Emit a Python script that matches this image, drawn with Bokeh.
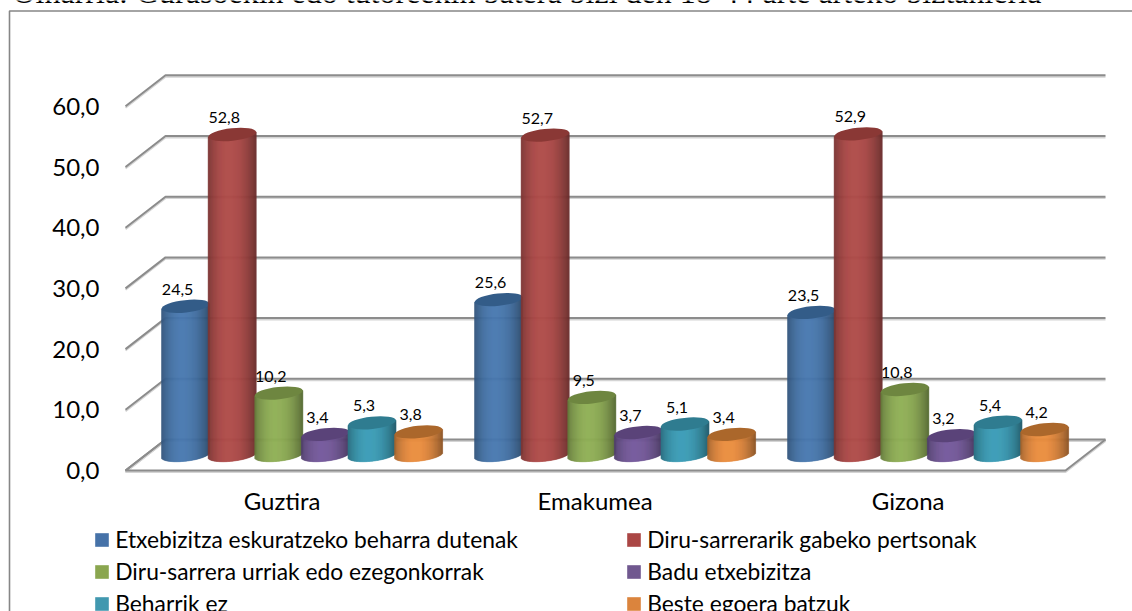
from bokeh.plotting import figure
from bokeh.models import (LinearAxis, FixedTicker, Legend, LegendItem, ColumnDataSource, Range1d)
from bokeh.core.properties import value
from bokeh.embed import file_html
from bokeh.resources import INLINE

# ---------- data ----------
title_text = "Oinarria: Gurasoekin edo tutoreekin batera bizi den 18-44 arte arteko biztanleria"
groups = ["Guztira", "Emakumea", "Gizona"]
series = ["Etxebizitza eskuratzeko beharra dutenak", "Diru-sarrerarik gabeko pertsonak",
          "Diru-sarrera urriak edo ezegonkorrak", "Badu etxebizitza",
          "Beharrik ez", "Beste egoera batzuk"]
etxebizitza = [24.5, 25.6, 23.5]
diru_gabe = [52.8, 52.7, 52.9]
diru_urri = [10.2, 9.5, 10.8]
badu = [3.4, 3.7, 3.2]
beharrik_ez = [5.3, 5.1, 5.4]
beste = [3.8, 3.4, 4.2]
all_values = [etxebizitza, diru_gabe, diru_urri, badu, beharrik_ez, beste]
y_ticks = [0, 10, 20, 30, 40, 50, 60]

side_colors = ["#4677AE", "#B04B49", "#8FAE55", "#73589A", "#41A0B9", "#EA8C3D"]
top_colors = ["#335C88", "#8A3835", "#6E8640", "#5A4379", "#2F7C90", "#AB672B"]
legend_colors = ["#4672A8", "#AA4644", "#8AA64F", "#70588F", "#4198AF", "#DB843D"]
grid_color = "#8C8C8C"
frame_color = "#868686"

# ---------- pixel geometry of the picture ----------
W, H = 1132, 611
PX_UNIT = 6.07          # px per value unit
Y0_PX = 470.0           # y px of value 0 at the front of the floor
DEPTH_Y = 31.0          # vertical px between floor front and back
DEPTH_X = 40.0
GROUP_PX = 313.0        # px between groups
GROUP0_PX = 301.6       # x px of first group's centre
BAR_PITCH = 46.6 / GROUP_PX
BAR_HALF = 24.0 / GROUP_PX
ELL_H = 6.2             # half height of top ellipse px
TILT = 2.6              # rise in px at right end of ellipse

x0 = -GROUP0_PX / GROUP_PX
x1 = (W - GROUP0_PX) / GROUP_PX
y1 = Y0_PX / PX_UNIT
y0 = (Y0_PX - H) / PX_UNIT

def X(px):
    return (px - GROUP0_PX) / GROUP_PX
def Y(px):
    return (Y0_PX - px) / PX_UNIT

p = figure(width=W, height=H, x_range=Range1d(x0, x1), y_range=Range1d(y0, y1),
           output_backend="svg", toolbar_location=None, min_border=0,
           x_axis_type=None, y_axis_type=None)
p.grid.visible = False
p.outline_line_color = None
p.background_fill_color = "white"
p.border_fill_color = "white"

# frame of the chart
p.line([X(9), X(9), X(W)], [Y(H), Y(10.5), Y(10.5)], line_color=frame_color, line_width=1.6)

# walls & floor
back_off = DEPTH_Y / PX_UNIT
fx, fx2 = X(125), X(1065)
bx, bx2 = X(165), X(1105)
for shadow, col, lw, dy in [(True, "#D4D4D4", 2, -1.4 / PX_UNIT), (False, grid_color, 2, 0)]:
    xs, ys = [], []
    for v in y_ticks:
        xs.append([fx, bx, bx2]); ys.append([v + dy, v + back_off + dy, v + back_off + dy])
    xs.append([bx, fx, fx2, bx2]); ys.append([back_off + dy, dy, dy, back_off + dy])
    p.multi_line(xs, ys, line_color=col, line_width=lw)

# ---------- cylinders ----------
def shade(hexcol, f):
    c = [int(hexcol[i:i + 2], 16) for i in (1, 3, 5)]
    return "#%02x%02x%02x" % tuple(max(0, min(255, int(round(v * f)))) for v in c)

STRIPS = 48
def profile(u):
    # u from -1 to 1 across the cylinder
    if u < -0.15:
        return 0.70 + 0.30 * (1 - ((-0.15 - u) / 0.85) ** 2)
    return 0.60 + 0.40 * (1 - ((u + 0.15) / 1.15) ** 2.2)

base_px = Y0_PX - DEPTH_Y / 2.0
base_val = (Y0_PX - base_px) / PX_UNIT
label_x, label_y, label_t = [], [], []
for s, vals in enumerate(all_values):
    left, right, bottom, top, cols = [], [], [], [], []
    ex, ey = [], []
    for g, v in enumerate(vals):
        xc = g + (s - 2.5) * BAR_PITCH
        for k in range(STRIPS):
            a = -1 + 2 * k / STRIPS
            b = -1 + 2 * (k + 1) / STRIPS
            u = (a + b) / 2
            round_part = (max(0.0, 1 - u * u)) ** 0.5
            left.append(xc + a * BAR_HALF)
            right.append(xc + b * BAR_HALF)
            bottom.append(base_val + (-round_part * ELL_H + u * TILT) / PX_UNIT)
            top.append(base_val + v + u * TILT / PX_UNIT)
            cols.append(shade(side_colors[s], profile(u)))
        ex.append(xc)
        ey.append(base_val + v)
        label_x.append(xc)
        label_y.append(base_val + v)
        label_t.append(f"{v:.1f}".replace(".", ","))
    src = ColumnDataSource(dict(left=left, right=right, bottom=bottom, top=top, c=cols))
    p.quad(left="left", right="right", bottom="bottom", top="top", fill_color="c",
           line_color="c", line_width=0.6, source=src)
    p.ellipse(ex, ey, width=2 * 24.0, height=2 * ELL_H, width_units="screen", height_units="screen",
              angle=0.108, fill_color=top_colors[s], line_color=None)

# data labels
p.text(label_x, label_y, text=label_t, text_font=value("Lato"), text_font_size="16px",
       text_color="#000000", text_align="center", text_baseline="middle",
       x_offset=-8, y_offset=-17)

# value axis
yax = LinearAxis(ticker=FixedTicker(ticks=y_ticks), fixed_location=X(125),
                 major_label_overrides={v: f"{v:.1f}".replace(".", ",") for v in y_ticks},
                 axis_line_color=None, major_tick_line_color=None, minor_tick_line_color=None,
                 major_label_text_font="Lato", major_label_text_font_size="24px",
                 major_label_text_color="#000000", major_label_standoff=20)
p.add_layout(yax, "left")

# category axis
label_shift = -20.0 / GROUP_PX
xax = LinearAxis(ticker=FixedTicker(ticks=[i + label_shift for i in range(3)]), fixed_location=Y(479),
                 major_label_overrides={i + label_shift: g for i, g in enumerate(groups)},
                 axis_line_color=None, major_tick_line_color=None, minor_tick_line_color=None,
                 major_label_text_font="Lato", major_label_text_font_size="24px",
                 major_label_text_color="#000000", major_label_standoff=0)
p.add_layout(xax, "below")

# title line, running off the top of the picture
p.text([X(12)], [Y(-8.5)], text=[title_text], text_font=value("Liberation Serif"), text_font_size="32px",
       text_color="#000000", text_align="left", text_baseline="alphabetic")

# legend
items = []
for s, name in enumerate(series):
    r = p.quad(left=[x1 + 1], right=[x1 + 2], bottom=[0], top=[1], fill_color=legend_colors[s], line_color=None)
    items.append(LegendItem(label=name, renderers=[r]))
leg = Legend(items=items, ncols=2, location=(93.25, -6), orientation="horizontal",
             glyph_width=17, glyph_height=17, label_standoff=5, label_width=506, spacing=4,
             padding=0, margin=0, background_fill_alpha=0, border_line_color=None,
             label_text_font="Lato", label_text_font_size="22.8px", label_text_color="#000000")
p.add_layout(leg, "center")

open("out.html", "w").write(file_html(p, INLINE))
